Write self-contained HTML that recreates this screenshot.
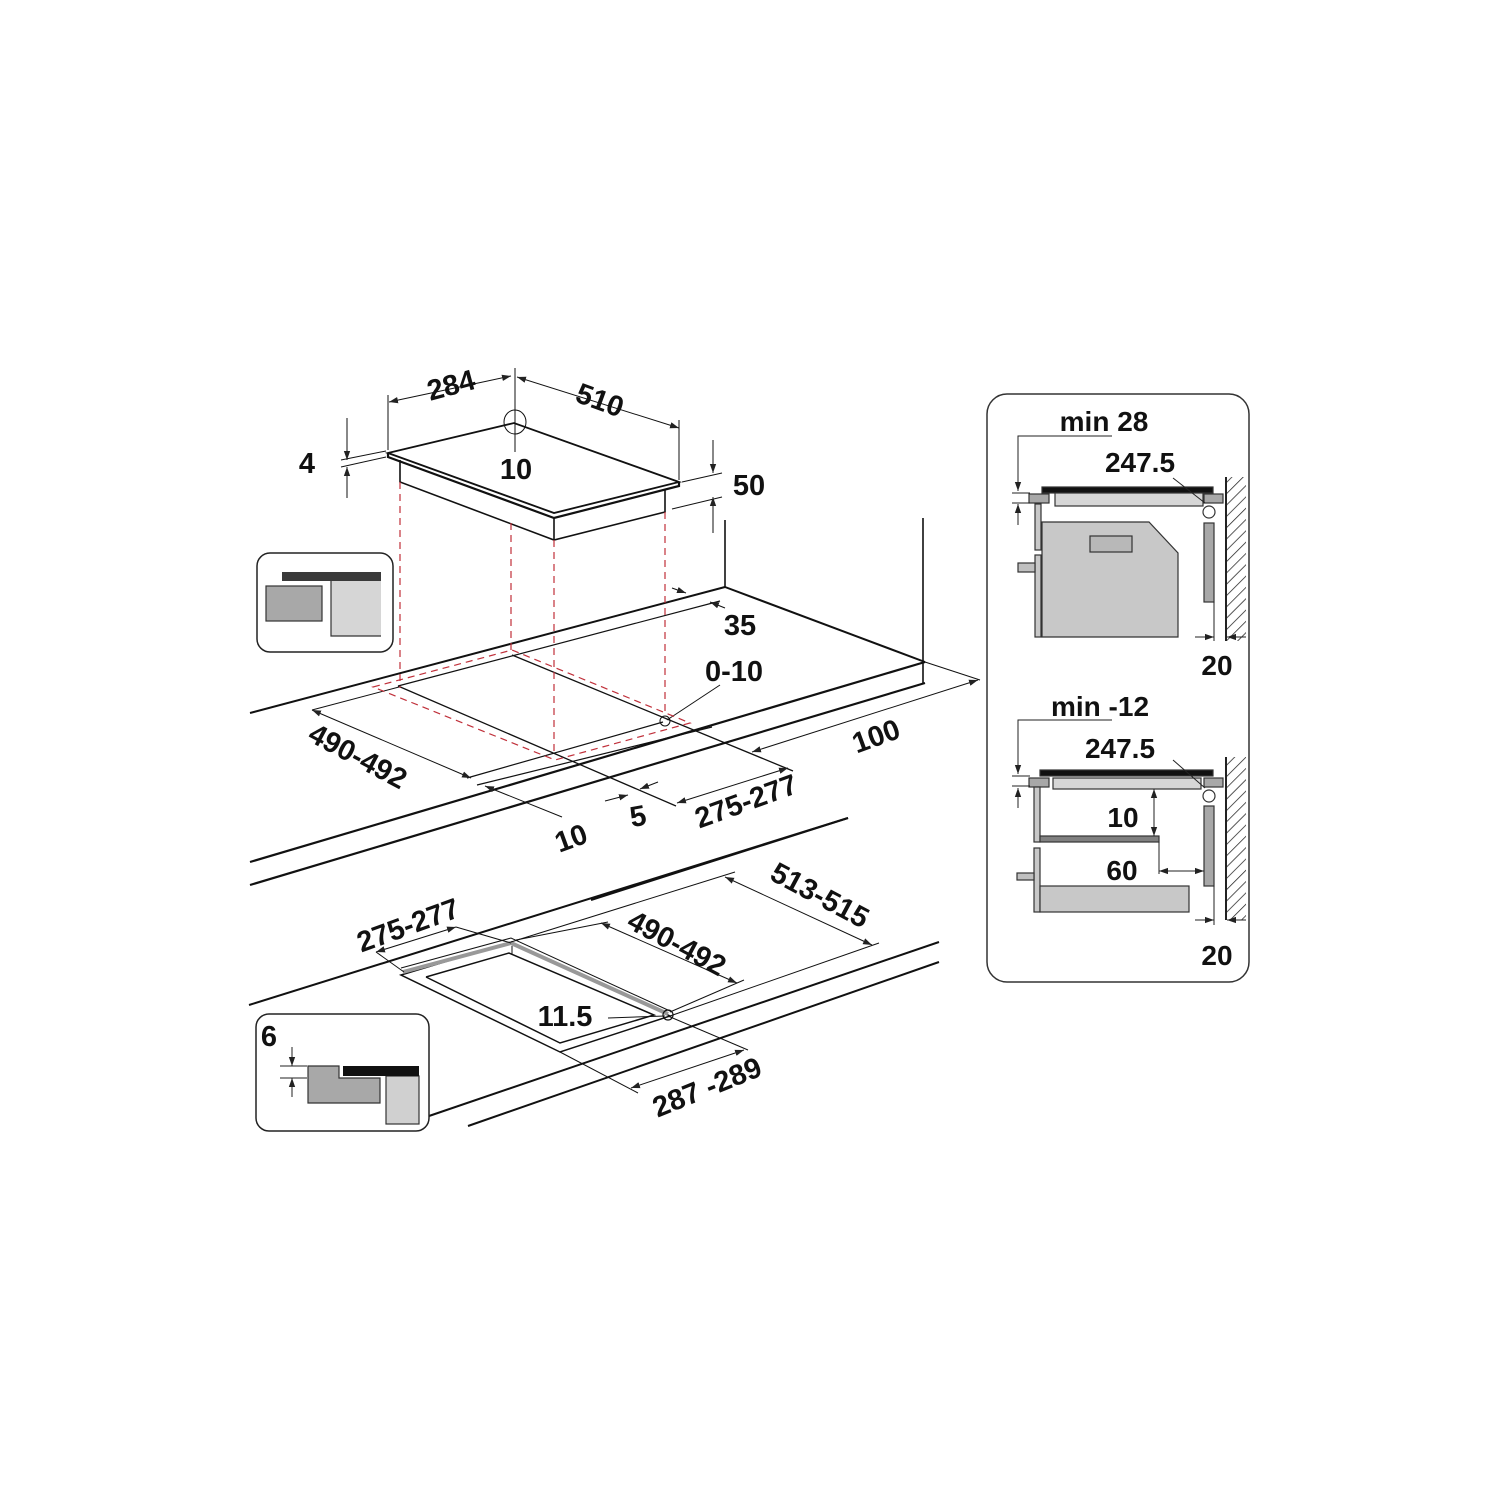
<!DOCTYPE html>
<html><head><meta charset="utf-8"><style>
html,body{margin:0;padding:0;background:#fff;}
svg{display:block;}
.t{font-family:"Liberation Sans Narrow","Liberation Sans",sans-serif;font-weight:bold;font-size:29px;fill:#111;}
.r{font-family:"Liberation Sans",sans-serif;font-weight:bold;font-size:28px;fill:#111;}
</style></head><body>
<svg width="1500" height="1500" viewBox="0 0 1500 1500" xmlns="http://www.w3.org/2000/svg">
<defs>
<marker id="a" viewBox="0 0 10 10" refX="10" refY="5" markerWidth="9" markerHeight="9" markerUnits="userSpaceOnUse" orient="auto-start-reverse"><path d="M0,1.5 L10,5 L0,8.5z" fill="#222"/></marker>
<pattern id="h" width="8" height="8" patternUnits="userSpaceOnUse" patternTransform="rotate(45)"><line x1="0" y1="0" x2="0" y2="8" stroke="#222" stroke-width="1.5"/></pattern>
</defs>
<rect width="1500" height="1500" fill="#fff"/>

<!-- ============ TOP DIAGRAM ============ -->
<g stroke="#111" fill="none">
<line x1="250" y1="713" x2="725" y2="587" stroke-width="2"/>
<line x1="725" y1="587" x2="925" y2="662" stroke-width="2"/>
<line x1="725" y1="520" x2="725" y2="587" stroke-width="1.6"/>
<line x1="923" y1="518" x2="923" y2="683" stroke-width="1.6"/>
<line x1="250" y1="862" x2="925" y2="662" stroke-width="2.2"/>
<line x1="250" y1="885" x2="925" y2="683" stroke-width="2.2"/>
<line x1="591" y1="900" x2="848" y2="818" stroke-width="2"/>
<line x1="398" y1="686" x2="720" y2="601" stroke-width="1.2"/>
<line x1="398" y1="686" x2="676" y2="806" stroke-width="1.3"/>
<line x1="512" y1="655" x2="793" y2="771" stroke-width="1.3"/>
<line x1="467" y1="778" x2="663" y2="722" stroke-width="1.2"/>
<line x1="477" y1="785" x2="712" y2="727" stroke-width="1.2"/>
<polygon points="388,453 514,423 679,482 554,513" fill="#fff" stroke-width="1.8"/>
<polyline points="388,453 388,457 554,518 679,486 679,482" stroke-width="2.2"/>
<polyline points="400,460 400,482 554,540 665,512 665,490" stroke-width="1.6"/>
<line x1="554" y1="518" x2="554" y2="540" stroke-width="1.6"/>
<line x1="388" y1="395" x2="388" y2="450" stroke-width="1"/>
<line x1="515" y1="368" x2="515" y2="452" stroke-width="1"/>
<ellipse cx="515" cy="422" rx="11" ry="12" stroke-width="1"/>
<line x1="679" y1="420" x2="679" y2="480" stroke-width="1"/>
<line x1="389" y1="402" x2="511" y2="376" stroke-width="1" marker-start="url(#a)" marker-end="url(#a)"/>
<line x1="517" y1="377" x2="679" y2="428" stroke-width="1" marker-start="url(#a)" marker-end="url(#a)"/>
<line x1="341" y1="460" x2="386" y2="451" stroke-width="1"/>
<line x1="341" y1="467" x2="386" y2="457" stroke-width="1"/>
<line x1="347" y1="418" x2="347" y2="460" stroke-width="1" marker-end="url(#a)"/>
<line x1="347" y1="498" x2="347" y2="467" stroke-width="1" marker-end="url(#a)"/>
<line x1="682" y1="482" x2="722" y2="473" stroke-width="1"/>
<line x1="672" y1="509" x2="722" y2="497" stroke-width="1"/>
<line x1="713" y1="440" x2="713" y2="473" stroke-width="1" marker-end="url(#a)"/>
<line x1="713" y1="533" x2="713" y2="497" stroke-width="1" marker-end="url(#a)"/>
<line x1="312" y1="710" x2="471" y2="778" stroke-width="1" marker-start="url(#a)" marker-end="url(#a)"/>
<line x1="312" y1="710" x2="399" y2="687" stroke-width="1"/>
<line x1="752" y1="752" x2="978" y2="680" stroke-width="1" marker-start="url(#a)" marker-end="url(#a)"/>
<line x1="925" y1="662" x2="980" y2="680" stroke-width="1"/>
<line x1="677" y1="803" x2="788" y2="768" stroke-width="1" marker-start="url(#a)" marker-end="url(#a)"/>
<line x1="605" y1="801" x2="628" y2="795" stroke-width="1" marker-end="url(#a)"/>
<line x1="658" y1="782" x2="640" y2="789" stroke-width="1" marker-end="url(#a)"/>
<line x1="485" y1="786" x2="562" y2="817" stroke-width="1" marker-start="url(#a)"/>
<line x1="672" y1="588" x2="686" y2="593" stroke-width="1" marker-end="url(#a)"/>
<line x1="725" y1="608" x2="710" y2="602" stroke-width="1" marker-end="url(#a)"/>
<line x1="720" y1="685" x2="667" y2="720" stroke-width="1"/>
<circle cx="665" cy="721" r="5" stroke-width="1"/>
</g>
<g stroke="#c0303a" stroke-width="1.2" stroke-dasharray="7,5" fill="none">
<line x1="400" y1="482" x2="400" y2="688"/>
<line x1="511" y1="523" x2="511" y2="655"/>
<line x1="554" y1="540" x2="554" y2="755"/>
<line x1="665" y1="512" x2="665" y2="716"/>
<polygon points="373,687 512,650 690,723 555,760"/>
</g>
<g class="t">
<text x="451" y="395" text-anchor="middle" transform="rotate(-15 451 385)">284</text>
<text x="600" y="410" text-anchor="middle" transform="rotate(20 600 400)">510</text>
<text x="516" y="479" text-anchor="middle">10</text>
<text x="307" y="473" text-anchor="middle">4</text>
<text x="749" y="495" text-anchor="middle">50</text>
<text x="740" y="635" text-anchor="middle">35</text>
<text x="734" y="681" text-anchor="middle">0-10</text>
<text x="358" y="766" text-anchor="middle" transform="rotate(28 358 756)">490-492</text>
<text x="876" y="746" text-anchor="middle" transform="rotate(-20 876 736)">100</text>
<text x="746" y="811" text-anchor="middle" transform="rotate(-20 746 801)">275-277</text>
<text x="638" y="826" text-anchor="middle" transform="rotate(-10 638 816)">5</text>
<text x="571" y="848" text-anchor="middle" transform="rotate(-20 571 838)">10</text>
</g>
<rect x="257" y="553" width="136" height="99" rx="13" fill="#fff" stroke="#222" stroke-width="1.5"/>
<rect x="282" y="572" width="99" height="9" fill="#3a3a3a"/>
<rect x="266" y="586" width="56" height="35" fill="#a8a8a8" stroke="#333" stroke-width="1.2"/>
<rect x="331" y="581" width="50" height="55" fill="#d6d6d6"/>
<polyline points="331,581 331,636 381,636" fill="none" stroke="#333" stroke-width="1.2"/>

<!-- ============ BOTTOM DIAGRAM ============ -->
<g stroke="#111" fill="none">
<line x1="249" y1="1005" x2="848" y2="818" stroke-width="2"/>
<line x1="429" y1="1116" x2="939" y2="942" stroke-width="2"/>
<line x1="468" y1="1126" x2="939" y2="962" stroke-width="2"/>
<polygon points="401,975 511,942 670,1016 560,1052" stroke-width="1.5"/>
<polyline points="426,977 509,953 654,1015 560,1043 426,977" stroke-width="1.5"/>
<polyline points="403,972 511,943 668,1014" stroke="#999" stroke-width="4"/>
<polyline points="401,968 511,938 670,1011" stroke-width="1"/>
<line x1="512" y1="946" x2="512" y2="955" stroke-width="1"/>
<circle cx="668" cy="1015" r="5" stroke-width="1.2"/>
<line x1="376" y1="952" x2="456" y2="927" stroke-width="1" marker-start="url(#a)" marker-end="url(#a)"/>
<line x1="376" y1="952" x2="404" y2="972" stroke-width="1"/>
<line x1="456" y1="927" x2="511" y2="943" stroke-width="1"/>
<line x1="516" y1="940" x2="608" y2="922" stroke-width="1"/>
<line x1="601" y1="923" x2="737" y2="983" stroke-width="1" marker-start="url(#a)" marker-end="url(#a)"/>
<line x1="670" y1="1012" x2="744" y2="980" stroke-width="1"/>
<line x1="511" y1="942" x2="735" y2="872" stroke-width="1"/>
<line x1="670" y1="1016" x2="879" y2="943" stroke-width="1"/>
<line x1="725" y1="877" x2="872" y2="945" stroke-width="1" marker-start="url(#a)" marker-end="url(#a)"/>
<line x1="668" y1="1016" x2="748" y2="1050" stroke-width="1"/>
<line x1="560" y1="1052" x2="638" y2="1093" stroke-width="1"/>
<line x1="631" y1="1088" x2="744" y2="1050" stroke-width="1" marker-start="url(#a)" marker-end="url(#a)"/>
<line x1="608" y1="1018" x2="665" y2="1016" stroke-width="1"/>
</g>
<rect x="256" y="1014" width="173" height="117" rx="13" fill="#fff" stroke="#222" stroke-width="1.5"/>
<polygon points="308,1066 339,1066 339,1078 380,1078 380,1103 308,1103" fill="#a8a8a8" stroke="#333" stroke-width="1.2"/>
<rect x="386" y="1076" width="33" height="48" fill="#d0d0d0" stroke="#333" stroke-width="1.2"/>
<rect x="343" y="1066" width="76" height="10" fill="#111"/>
<g stroke="#222" stroke-width="1" fill="none">
<line x1="280" y1="1066" x2="307" y2="1066"/>
<line x1="280" y1="1078" x2="307" y2="1078"/>
<line x1="292" y1="1047" x2="292" y2="1066" marker-end="url(#a)"/>
<line x1="292" y1="1097" x2="292" y2="1078" marker-end="url(#a)"/>
</g>
<g class="t">
<text x="408" y="935" text-anchor="middle" transform="rotate(-20 408 925)">275-277</text>
<text x="677" y="953" text-anchor="middle" transform="rotate(28 677 943)">490-492</text>
<text x="820" y="905" text-anchor="middle" transform="rotate(28 820 895)">513-515</text>
<text x="707" y="1097" text-anchor="middle" transform="rotate(-22 707 1087)">287 -289</text>
<text x="565" y="1026" text-anchor="middle">11.5</text>
<text x="269" y="1046" text-anchor="middle">6</text>
</g>

<!-- ============ RIGHT PANEL ============ -->
<rect x="987" y="394" width="262" height="588" rx="20" fill="#fff" stroke="#333" stroke-width="1.5"/>
<g stroke="#333" stroke-width="1.2">
<rect x="1042" y="487" width="171" height="6" fill="#111"/>
<rect x="1029" y="494" width="20" height="9" fill="#a8a8a8"/>
<rect x="1055" y="493" width="148" height="13" fill="#d6d6d6"/>
<rect x="1204" y="494" width="19" height="9" fill="#a8a8a8"/>
<circle cx="1209" cy="512" r="6" fill="#fff"/>
<rect x="1035" y="504" width="6" height="46" fill="#c8c8c8"/>
<rect x="1035" y="555" width="6" height="82" fill="#c8c8c8"/>
<rect x="1018" y="563" width="17" height="9" fill="#c0c0c0"/>
<polygon points="1042,522 1149,522 1178,553 1178,637 1042,637" fill="#c8c8c8"/>
<rect x="1090" y="536" width="42" height="16" fill="#b8b8b8"/>
<rect x="1204" y="523" width="10" height="79" fill="#a8a8a8"/>
</g>
<rect x="1225" y="477" width="21" height="164" fill="url(#h)"/>
<g stroke="#222" stroke-width="1" fill="none">
<line x1="1226" y1="477" x2="1226" y2="641" stroke-width="2"/>
<polyline points="1112,436 1018,436 1018,491" marker-end="url(#a)"/>
<line x1="1012" y1="493" x2="1030" y2="493"/>
<line x1="1012" y1="503" x2="1030" y2="503"/>
<line x1="1018" y1="525" x2="1018" y2="504" marker-end="url(#a)"/>
<line x1="1173" y1="478" x2="1205" y2="503"/>
<line x1="1214" y1="602" x2="1214" y2="641"/>
<line x1="1195" y1="637" x2="1214" y2="637" marker-end="url(#a)"/>
<line x1="1246" y1="637" x2="1227" y2="637" marker-end="url(#a)"/>
</g>
<g class="r" text-anchor="middle">
<text x="1104" y="431">min 28</text>
<text x="1140" y="472">247.5</text>
<text x="1217" y="675">20</text>
</g>
<g stroke="#333" stroke-width="1.2">
<rect x="1040" y="770" width="173" height="6" fill="#111"/>
<rect x="1029" y="778" width="20" height="9" fill="#a8a8a8"/>
<rect x="1053" y="778" width="148" height="11" fill="#d6d6d6"/>
<rect x="1204" y="778" width="19" height="9" fill="#a8a8a8"/>
<circle cx="1209" cy="796" r="6" fill="#fff"/>
<rect x="1034" y="787" width="6" height="55" fill="#c8c8c8"/>
<rect x="1040" y="836" width="119" height="6" fill="#808080"/>
<rect x="1034" y="848" width="6" height="64" fill="#c8c8c8"/>
<rect x="1017" y="873" width="17" height="7" fill="#c0c0c0"/>
<rect x="1040" y="886" width="149" height="26" fill="#c8c8c8"/>
<rect x="1204" y="806" width="10" height="80" fill="#a8a8a8"/>
</g>
<rect x="1225" y="757" width="21" height="163" fill="url(#h)"/>
<g stroke="#222" stroke-width="1" fill="none">
<line x1="1226" y1="757" x2="1226" y2="920" stroke-width="2"/>
<polyline points="1112,720 1018,720 1018,774" marker-end="url(#a)"/>
<line x1="1012" y1="776" x2="1030" y2="776"/>
<line x1="1012" y1="786" x2="1030" y2="786"/>
<line x1="1018" y1="808" x2="1018" y2="788" marker-end="url(#a)"/>
<line x1="1173" y1="760" x2="1205" y2="788"/>
<line x1="1154" y1="789" x2="1154" y2="836" marker-start="url(#a)" marker-end="url(#a)"/>
<line x1="1159" y1="842" x2="1159" y2="874"/>
<line x1="1159" y1="871" x2="1204" y2="871" marker-start="url(#a)" marker-end="url(#a)"/>
<line x1="1214" y1="886" x2="1214" y2="925"/>
<line x1="1195" y1="920" x2="1214" y2="920" marker-end="url(#a)"/>
<line x1="1246" y1="920" x2="1227" y2="920" marker-end="url(#a)"/>
</g>
<g class="r" text-anchor="middle">
<text x="1100" y="716">min -12</text>
<text x="1120" y="758">247.5</text>
<text x="1123" y="827">10</text>
<text x="1122" y="880">60</text>
<text x="1217" y="965">20</text>
</g>
</svg>
</body></html>
